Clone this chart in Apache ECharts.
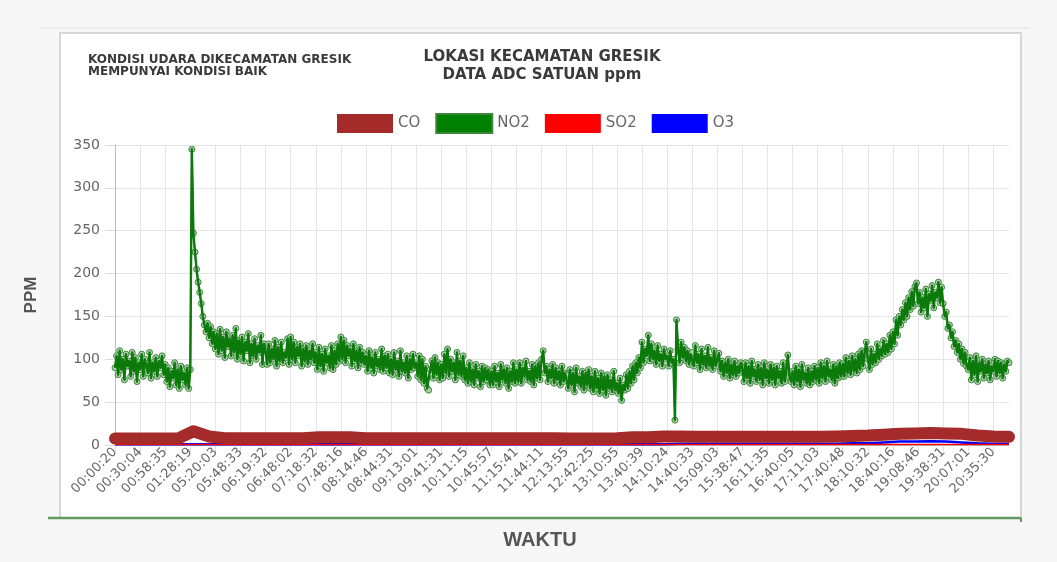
<!DOCTYPE html>
<html>
<head>
<meta charset="utf-8">
<script src="https://cdn.jsdelivr.net/npm/echarts@6/dist/echarts.min.js"></script>
<style>html,body{margin:0;padding:0;background:#f7f7f7;}#c{width:1057px;height:562px;}</style>
</head>
<body>
<div id="c"></div>
<script>
const tickLabels = ['00:00:20','00:30:04','00:58:35','01:28:19','05:20:03','05:48:33','06:19:32','06:48:02','07:18:32','07:48:16','08:14:46','08:44:31','09:13:01','09:41:31','10:11:15','10:45:57','11:15:41','11:44:11','12:13:55','12:42:25','13:10:55','13:40:39','14:10:24','14:40:33','15:09:03','15:38:47','16:11:35','16:40:05','17:11:03','17:40:48','18:10:32','18:40:16','19:08:46','19:38:31','20:07:01','20:35:30'];
const pointsPerTick = 16;

// NO2 readings (16 per labelled time step)
const no2 = [
 90,104,82,110,88,100,76,106,92,98,80,108,86,102,74,96,
 88,106,80,100,92,84,108,78,96,86,102,80,98,90,104,82,
 94,74,90,68,86,78,96,70,88,66,92,76,84,70,90,66,
 88,345,247,225,205,190,178,165,150,140,132,142,125,138,118,132,
 112,130,106,135,110,126,102,132,115,124,104,128,108,136,100,122,
 106,126,98,120,110,130,96,118,104,124,100,116,108,128,94,118,
 110,94,118,96,112,100,122,92,114,98,120,96,108,102,124,94,
 126,100,120,96,114,104,118,92,112,98,116,94,110,100,118,96,
 108,88,114,92,106,86,112,96,104,90,116,88,110,94,118,98,
 126,100,122,96,116,104,112,92,118,98,110,90,114,96,108,94,
 104,86,110,90,102,84,108,92,100,88,112,86,104,90,106,84,
 100,82,108,88,98,80,110,86,96,84,104,78,100,88,106,90,
 96,80,104,76,100,72,92,66,64,88,98,78,102,82,96,76,
 94,78,106,84,112,80,100,86,96,76,108,82,98,80,104,76,
 90,72,96,74,88,70,94,78,86,68,92,74,90,76,88,70,
 86,70,92,74,84,68,94,76,88,72,90,66,86,74,96,72,
 88,74,96,72,90,80,98,76,86,74,94,70,92,78,96,76,
 100,110,84,92,74,88,78,94,72,90,76,86,70,92,74,84,
 82,66,88,70,84,62,90,72,80,68,86,64,84,70,88,66,
 80,62,86,66,78,60,84,64,80,58,82,66,76,62,86,64,
 72,60,78,52,70,64,82,66,86,72,92,76,96,84,102,90,
 120,96,112,104,128,98,118,100,110,94,116,98,106,92,112,100,
 104,92,110,96,100,29,146,112,96,120,102,114,98,110,94,106,
 108,92,116,96,106,88,112,94,104,90,114,92,102,88,110,92,
 100,107,86,98,80,96,84,100,78,94,82,98,80,92,84,96,
 90,74,96,78,92,72,98,80,88,74,94,76,90,70,96,78,
 88,72,94,76,90,70,92,78,86,72,96,74,88,105,80,74,
 86,70,92,74,88,68,94,76,84,72,90,70,86,74,92,76,
 90,72,96,78,92,74,98,80,88,76,94,72,92,78,96,80,
 95,80,102,84,98,82,104,86,100,84,106,88,110,92,108,120,
 100,88,112,94,106,96,118,100,112,104,122,106,118,108,128,112,
 132,118,146,128,150,140,158,146,166,150,172,158,179,162,185,189,
 165,178,155,172,160,182,150,176,168,186,160,178,172,190,166,184,
 165,150,155,136,140,125,132,115,122,108,118,100,112,95,108,92,
 88,102,76,98,82,104,74,96,86,100,78,94,84,98,76,92,
 86,100,80,98,84,96,78,94,86,98,96
];

// CO, SO2, O3 readings, one every 10 samples
const sampleStep = 10;
const co = [7.5,7.5,7.5,7.5,7.5,16,10,8,8,8, 8,8,8,9,9,9,8,8,8,8, 8,8,8,8,8,8,8,8,8,7.5, 7.5,7.5,8,9,9,10,10,9.5,9.5,9.5, 9.5,9.5,9.5,9.5,9.5,9.5,10,10.5,11,12, 13,13.5,14,13.5,13,11,10,9.5];
const so2 = [0.5,0.5,0.5,0.5,0.5,0.5,0.5,0.5,0.5,0.5, 0.5,0.5,0.5,0.5,0.5,0.5,0.5,0.5,0.5,0.5, 0.5,0.5,0.5,0.5,0.5,0.5,0.5,0.5,0.5,0.5, 0.5,0.5,0.5,0.5,0.5,0.5,0.5,0.5,0.5,0.5, 0.5,0.5,0.5,0.5,0.5,0.5,0.5,0.5,0.5,0.5, 0.5,0.5,0.5,0.5,0.5,0.5,0.5,0.5];
const o3 = [1,1,1,1,1,1,1,1,1,1, 1,1,1,1,1,1,1,1,1,1, 1,1,1,1,1,1,1,1,1,1, 1,1,1,1,1,1,1.5,1.5,1.5,1.5, 1.5,1.5,1.5,1.5,1.5,1.5,1.5,2,2,3, 4,4,4.5,4,3,2,1.5,1.5];

const categories = no2.map((_, i) => i % pointsPerTick === 0 ? tickLabels[i / pointsPerTick] : '');
const sparse = arr => arr.map((v, i) => [i * sampleStep, v]);

const chart = echarts.init(document.getElementById('c'), null, {renderer: 'canvas'});
const FONT = '"Liberation Sans", Arial, sans-serif';
const WIDE = '"DejaVu Sans", sans-serif';
chart.setOption({
  animation: false,
  backgroundColor: '#f7f7f7',
  textStyle: {fontFamily: WIDE},
  graphic: [
    {type: 'line', z: -10, shape: {x1: 40, y1: 28, x2: 1030, y2: 28}, style: {stroke: '#e2e2e2', lineWidth: 1}},
    {type: 'rect', z: -9, shape: {x: 60, y: 33, width: 961, height: 485}, style: {fill: '#ffffff', stroke: '#d6d6d6', lineWidth: 2}},
    {type: 'line', z: -8, shape: {x1: 48, y1: 518, x2: 1021, y2: 518}, style: {stroke: '#5f9a5f', lineWidth: 2.5}},
    {type: 'line', z: -8, shape: {x1: 1021, y1: 518, x2: 1021, y2: 522}, style: {stroke: '#5f9a5f', lineWidth: 2}},
    {type: 'text', z: 10, x: 540, y: 540, style: {text: 'WAKTU', fill: '#555', font: 'bold 20px "Liberation Sans", Arial, sans-serif', textAlign: 'center', textVerticalAlign: 'middle'}}
  ],
  title: [
    {text: 'KONDISI UDARA DIKECAMATAN GRESIK\nMEMPUNYAI KONDISI BAIK', left: 83, top: 49,
     textStyle: {fontSize: 12, fontWeight: 'bold', color: '#3a3a3a', lineHeight: 12, fontFamily: WIDE}},
    {text: 'LOKASI KECAMATAN GRESIK\nDATA ADC SATUAN ppm', left: 537, top: 43, textAlign: 'center',
     textStyle: {fontSize: 15, fontWeight: 'bold', color: '#3a3a3a', lineHeight: 18, fontFamily: WIDE}}
  ],
  legend: {
    left: 332, top: 108, icon: 'rect', itemWidth: 56, itemHeight: 19, itemGap: 15,
    textStyle: {fontSize: 15, color: '#666', fontFamily: WIDE},
    data: [
      {name: 'CO', itemStyle: {color: '#a52a2a'}},
      {name: 'NO2', itemStyle: {color: '#008000'}},
      {name: 'SO2', itemStyle: {color: '#ff0000'}},
      {name: 'O3', itemStyle: {color: '#0000ff'}}
    ]
  },
  grid: {left: 115, right: 48, top: 145, bottom: 117, containLabel: false},
  xAxis: {
    type: 'category', data: categories, boundaryGap: false,
    axisLine: {lineStyle: {color: '#bdbdbd'}},
    axisTick: {show: true, interval: pointsPerTick - 1, length: 6, lineStyle: {color: '#dcdcdc'}},
    axisLabel: {interval: pointsPerTick - 1, rotate: 45, fontSize: 13, color: '#666', margin: 5, fontFamily: WIDE},
    splitLine: {show: true, interval: pointsPerTick - 1, lineStyle: {color: '#e6e6e6'}}
  },
  yAxis: {
    type: 'value', min: 0, max: 350, interval: 50,
    name: 'PPM', nameLocation: 'middle', nameGap: 75, nameRotate: 90,
    nameTextStyle: {fontSize: 17, fontWeight: 'bold', color: '#555', fontFamily: FONT},
    axisLine: {show: true, lineStyle: {color: '#bdbdbd'}},
    axisTick: {show: true, length: 10, lineStyle: {color: '#dcdcdc'}},
    axisLabel: {fontSize: 14, color: '#666', margin: 15, fontFamily: WIDE},
    splitLine: {lineStyle: {color: '#e6e6e6'}}
  },
  series: [
    {name: 'CO', type: 'line', data: sparse(co), z: 8, showSymbol: false,
     lineStyle: {color: '#a52a2a', width: 12, cap: 'round', join: 'round'}, itemStyle: {color: '#a52a2a'}},
    {name: 'NO2', type: 'line', data: no2, z: 5, symbol: 'circle', symbolSize: 6, showAllSymbol: true,
     lineStyle: {color: '#008000', width: 1.5}, itemStyle: {color: 'rgba(175,205,175,0.95)', borderColor: '#3a873a', borderWidth: 1}},
    {name: 'NO2', type: 'line', data: no2, z: 6, showSymbol: false,
     lineStyle: {color: '#0b7a0b', width: 2.4, join: 'round'}, itemStyle: {color: '#008000'}},
    {name: 'SO2', type: 'line', data: sparse(so2), z: 4, showSymbol: false,
     lineStyle: {color: '#ff0000', width: 1.5}, itemStyle: {color: '#ff0000'}},
    {name: 'O3', type: 'line', data: sparse(o3), z: 3, showSymbol: false,
     lineStyle: {color: '#0000ff', width: 2.5}, itemStyle: {color: '#0000ff'}}
  ]
});
</script>
</body>
</html>
